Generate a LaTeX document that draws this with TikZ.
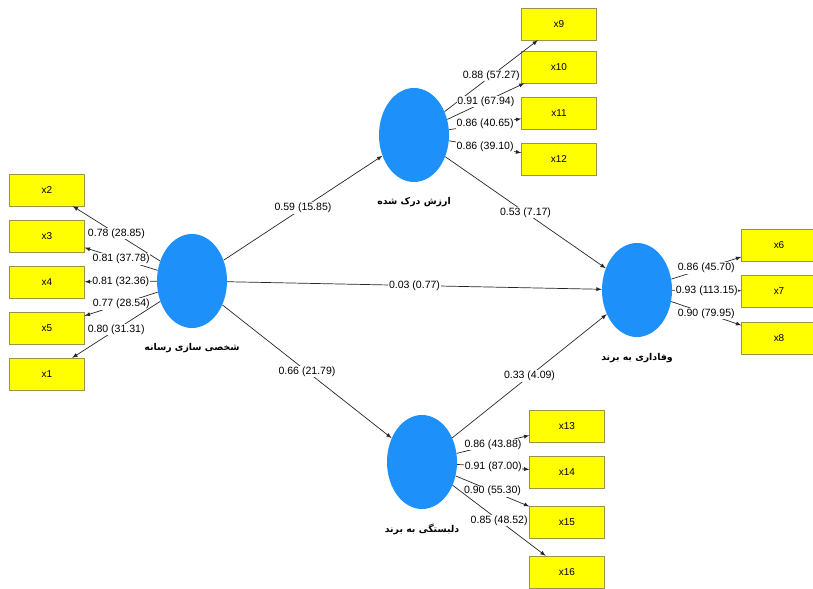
\documentclass[tikz,border=0pt]{standalone}
\usepackage{fontspec}
\setmainfont{Liberation Sans}
\newfontfamily\farsi[Script=Arabic]{DejaVu Sans}
\TeXXeTstate=1
\usepackage{xcolor}
\usetikzlibrary{positioning,shapes}
\definecolor{lvblue}{RGB}{30,144,250}
\definecolor{indyellow}{RGB}{255,255,0}

\begin{document}
\begin{tikzpicture}[%
        x=0.03cm, y=-0.03cm,
        lv/.style={ellipse, fill=lvblue, minimum width=2.1cm, minimum height=2.82cm},
        ind/.style={rectangle, fill=indyellow, draw=yellow!55!black, line width=0.3pt, minimum width=2.25cm, minimum height=0.96cm, font=\fontsize{8.5}{9}\selectfont},
        coef/.style={fill=white, inner sep=0.6pt, font=\fontsize{9}{10}\selectfont},
        lvname/.style={inner sep=1pt, font=\farsi\bfseries\fontsize{8}{10}\selectfont},
        every edge/.style={draw=black!85, line width=0.6pt},
        >=latex
      ]
      \useasboundingbox (0,0) rectangle (813,588);
      % latent variables
      \node [lv] (media) at (192,281) {};
      \node [lvname, below=0.4cm of media] (medialbl) {\beginR شخصی سازی رسانه\endR};
      \node [lv] (value) at (414,135) {};
      \node [lvname, below=0.4cm of value] (valuelbl) {\beginR ارزش درک شده\endR};
      \node [lv] (loyal) at (637,290) {};
      \node [lvname, below=0.45cm of loyal] (loyallbl) {\beginR وفاداری به برند\endR};
      \node [lv] (attach) at (422,462) {};
      \node [lvname, below=0.4cm of attach] (attachlbl) {\beginR دلبستگی به برند\endR};
      % indicators
      \node [ind] (x2) at (47,190) {x2};
      \node [ind] (x3) at (47,236) {x3};
      \node [ind] (x4) at (47,282) {x4};
      \node [ind] (x5) at (47,328) {x5};
      \node [ind] (x1) at (47,374) {x1};
      \node [ind] (x9) at (559,24) {x9};
      \node [ind] (x10) at (559,67) {x10};
      \node [ind] (x11) at (559,113) {x11};
      \node [ind] (x12) at (559,159) {x12};
      \node [ind] (x6) at (779,245) {x6};
      \node [ind] (x7) at (779,291) {x7};
      \node [ind] (x8) at (779,338) {x8};
      \node [ind] (x13) at (567,426) {x13};
      \node [ind] (x14) at (567,472) {x14};
      \node [ind] (x15) at (567,522) {x15};
      \node [ind] (x16) at (567,572) {x16};
      % inner model
      \path [draw] (media) edge[->] node[coef] {0.59 (15.85)} (value)
      (media) edge[->] node[coef] {0.03 (0.77)} (loyal)
      (media) edge[->] node[coef] {0.66 (21.79)} (attach)
      (value) edge[->] node[coef] {0.53 (7.17)} (loyal)
      (attach) edge[->] node[coef] {0.33 (4.09)} (loyal);
      % outer model
      \path [draw] (media) edge[->] node[coef] {0.78 (28.85)} (x2)
      (media) edge[->] node[coef] {0.81 (37.78)} (x3)
      (media) edge[->] node[coef] {0.81 (32.36)} (x4)
      (media) edge[->] node[coef] {0.77 (28.54)} (x5)
      (media) edge[->] node[coef] {0.80 (31.31)} (x1);
      \path [draw] (value) edge[->] node[coef] {0.88 (57.27)} (x9)
      (value) edge[->] node[coef] {0.91 (67.94)} (x10)
      (value) edge[->] node[coef] {0.86 (40.65)} (x11)
      (value) edge[->] node[coef] {0.86 (39.10)} (x12);
      \path [draw] (loyal) edge[->] node[coef] {0.86 (45.70)} (x6)
      (loyal) edge[->] node[coef] {0.93 (113.15)} (x7)
      (loyal) edge[->] node[coef] {0.90 (79.95)} (x8);
      \path [draw] (attach) edge[->] node[coef] {0.86 (43.88)} (x13)
      (attach) edge[->] node[coef] {0.91 (87.00)} (x14)
      (attach) edge[->] node[coef] {0.90 (55.30)} (x15)
      (attach) edge[->] node[coef] {0.85 (48.52)} (x16);
    \end{tikzpicture}
\end{document}
